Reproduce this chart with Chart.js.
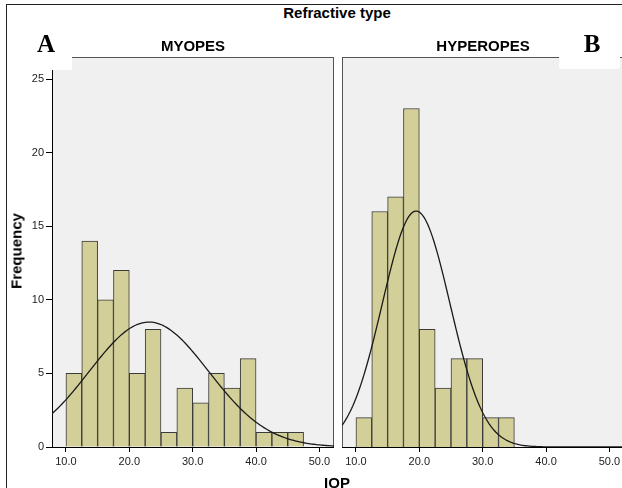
<!DOCTYPE html>
<html>
<head>
<meta charset="utf-8">
<script src="https://cdn.jsdelivr.net/npm/chart.js@4.4.1/dist/chart.umd.min.js"></script>
<style>
  html, body { margin: 0; padding: 0; background: #fff; }
  body { width: 622px; height: 488px; position: relative; overflow: hidden; font-family: Arial, "Liberation Sans", sans-serif; }
  .frame { position: absolute; left: 6px; top: 4px; width: 700px; height: 600px; border-left: 1px solid #222; border-top: 1px solid #222; }
  canvas { position: absolute; }
  #myopes { left: 0; top: 57px; }
  #hyperopes { left: 342px; top: 57px; }
  .lbl { position: absolute; font-weight: bold; color: #000; white-space: nowrap; transform: translateX(-50%); }
  .sans { font-size: 15px; line-height: 15px; }
  .letter { font-family: "Liberation Serif", "Times New Roman", serif; font-size: 25px; line-height: 25px; }
  .cover { position: absolute; background: #fff; }
</style>
</head>
<body>
<div class="frame"></div>
<canvas id="myopes" width="334" height="431"></canvas>
<canvas id="hyperopes" width="282" height="431"></canvas>
<div class="cover" style="left:45px; top:56px; width:27px; height:14px;"></div>
<div class="cover" style="left:559px; top:55px; width:61px; height:14px; border-radius:3px;"></div>
<div class="lbl sans" style="left:337px; top:5px;">Refractive type</div>
<div class="lbl sans" style="left:193px; top:38px;">MYOPES</div>
<div class="lbl sans" style="left:483px; top:38px;">HYPEROPES</div>
<div class="lbl letter" style="left:46px; top:31px;">A</div>
<div class="lbl letter" style="left:592px; top:31px;">B</div>
<div class="lbl sans" style="left:16px; top:251px; transform: translate(-50%, -50%) rotate(-90deg);">Frequency</div>
<div class="lbl sans" style="left:337px; top:475px;">IOP</div>
<script>
// Histogram bins (IOP), lower edges, width 2.5
const BIN_WIDTH = 2.5;
const BIN_START = [10, 12.5, 15, 17.5, 20, 22.5, 25, 27.5, 30, 32.5, 35, 37.5, 40, 42.5, 45];

// Frequencies per bin
const MYOPES_COUNTS = [5, 14, 10, 12, 5, 8, 1, 4, 3, 5, 4, 6, 1, 1, 1];
const HYPEROPES_COUNTS = [2, 16, 17, 23, 8, 4, 6, 6, 2, 2];

// Normal curve parameters (mean / std. dev.)
const MYOPES_MEAN = 23.1;
const MYOPES_SD = 9.4;
const HYPEROPES_MEAN = 19.5;
const HYPEROPES_SD = 5.35;

// Axes
const X_TICKS = [10, 20, 30, 40, 50];
const Y_TICKS = [0, 5, 10, 15, 20, 25];
const X_MIN = 7.8;
const X_MAX = 52.3;
const Y_MAX = 26.5;

// Fitted normal curve scaled to the histogram counts
function normalCurve(counts, mean, sd) {
  const n = counts.reduce((sum, v) => sum + v, 0);
  const peak = n * BIN_WIDTH / (sd * Math.sqrt(2 * Math.PI));
  const points = [];
  for (let x = X_MIN; x <= X_MAX + 0.001; x += 0.25) {
    points.push({ x: x, y: peak * Math.exp(-0.5 * Math.pow((x - mean) / sd, 2)) });
  }
  return points;
}

// Grey panel background with frame
const panelBackground = {
  id: 'panelBackground',
  beforeDraw(chart) {
    const a = chart.chartArea;
    const ctx = chart.ctx;
    ctx.save();
    ctx.fillStyle = '#f0f0f0';
    ctx.fillRect(a.left, a.top, a.right - a.left, a.bottom - a.top);
    ctx.strokeStyle = '#555';
    ctx.lineWidth = 1;
    ctx.strokeRect(a.left + 0.5, a.top + 0.5, a.right - a.left - 1, a.bottom - a.top);
    ctx.restore();
  }
};

const tickFont = { family: 'Arial, "Liberation Sans", sans-serif', size: 11 };

function makePanel(canvasId, counts, mean, sd, showY) {
  return new Chart(document.getElementById(canvasId), {
    type: 'bar',
    data: {
      datasets: [{
        type: 'line',
        data: normalCurve(counts, mean, sd),
        borderColor: '#1a1a1a',
        borderWidth: 1.3,
        pointRadius: 0,
        tension: 0,
        order: 0
      }, {
        type: 'bar',
        data: counts.map((c, i) => ({ x: BIN_START[i] + BIN_WIDTH / 2, y: c })),
        backgroundColor: '#d3cf98',
        borderColor: '#3a3a3a',
        borderWidth: 1,
        barPercentage: 1,
        categoryPercentage: 1,
        order: 1
      }]
    },
    options: {
      responsive: false,
      animation: false,
      layout: { padding: 0 },
      plugins: { legend: { display: false }, tooltip: { enabled: false } },
      scales: {
        x: {
          type: 'linear',
          min: X_MIN,
          max: X_MAX,
          offset: false,
          afterBuildTicks: scale => { scale.ticks = X_TICKS.map(v => ({ value: v })); },
          afterFit: scale => { scale.height = 41; scale.paddingLeft = 0; scale.paddingRight = 0; },
          ticks: { callback: v => v.toFixed(1), color: '#222', font: tickFont, padding: 3, maxRotation: 0, autoSkip: false },
          grid: { offset: false, drawOnChartArea: false, tickLength: 5, color: '#000' },
          border: { color: '#000' }
        },
        y: {
          display: showY,
          min: 0,
          max: Y_MAX,
          afterBuildTicks: scale => { scale.ticks = Y_TICKS.map(v => ({ value: v })); },
          afterFit: scale => { scale.width = showY ? 52 : 0; scale.paddingTop = 0; scale.paddingBottom = 0; },
          ticks: { color: '#222', font: tickFont, padding: 2 },
          grid: { drawOnChartArea: false, tickLength: 6, color: '#000' },
          border: { color: '#000' }
        }
      }
    },
    plugins: [panelBackground]
  });
}

document.addEventListener('DOMContentLoaded', function() {
  makePanel('myopes', MYOPES_COUNTS, MYOPES_MEAN, MYOPES_SD, true);
  makePanel('hyperopes', HYPEROPES_COUNTS, HYPEROPES_MEAN, HYPEROPES_SD, false);
});
</script>
</body>
</html>
